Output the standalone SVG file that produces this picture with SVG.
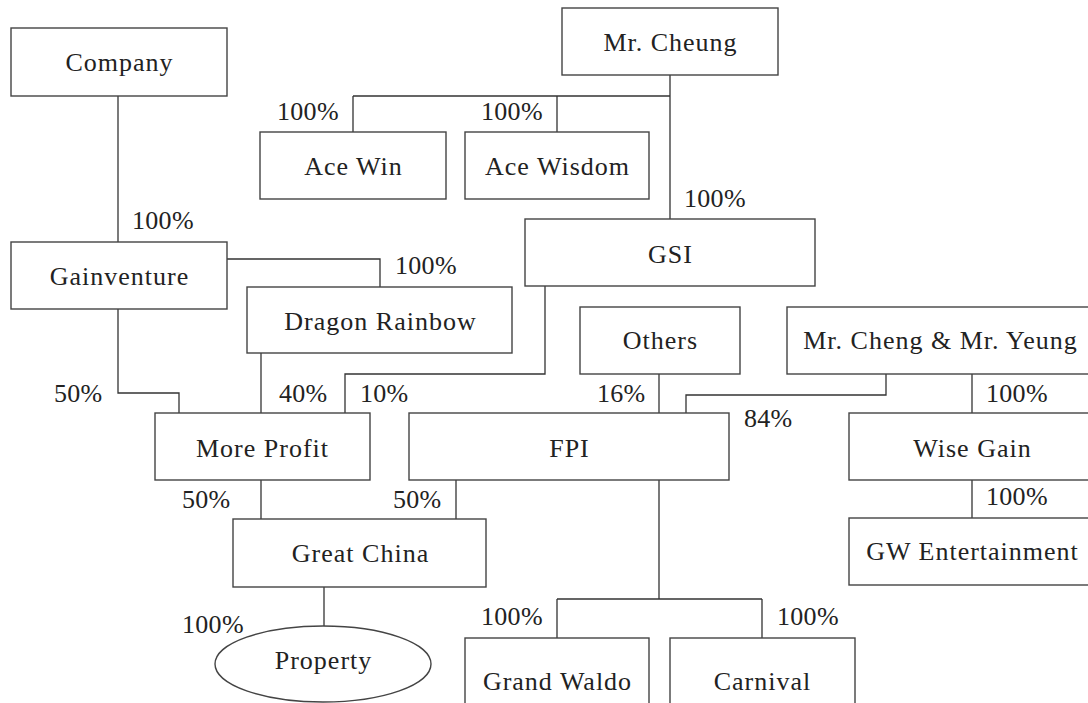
<svg xmlns="http://www.w3.org/2000/svg" width="1088" height="703" viewBox="0 0 1088 703">
<style>
.b{fill:#fff;stroke:#444;stroke-width:1.4}
.t{font-family:"Liberation Serif","Times New Roman",serif;font-size:26px;fill:#222;text-anchor:middle;letter-spacing:1px}
.p{font-family:"Liberation Serif","Times New Roman",serif;font-size:26px;fill:#222;letter-spacing:0.3px}
.c{fill:none;stroke:#333;stroke-width:1.3}
</style>
<rect width="1088" height="703" fill="#fff"/>
<g id="connectors">
<path class="c" d="M118,96V242"/>
<path class="c" d="M670,75V219M353,96H670M353,96V132M557,96V132"/>
<path class="c" d="M227,259H380V287"/>
<path class="c" d="M118,309V393H179V413"/>
<path class="c" d="M261,353V413"/>
<path class="c" d="M545,286V374H345V413"/>
<path class="c" d="M659,374V413"/>
<path class="c" d="M886,374V395H686V413"/>
<path class="c" d="M972,374V413"/>
<path class="c" d="M261,480V519"/>
<path class="c" d="M456,480V519"/>
<path class="c" d="M324,587V626"/>
<path class="c" d="M659,480V599M557,599H762M557,599V638M762,599V638"/>
<path class="c" d="M972,480V518"/>
<text class="p" x="132" y="229">100%</text>
<text class="p" x="277" y="120">100%</text>
<text class="p" x="481" y="120">100%</text>
<text class="p" x="684" y="207">100%</text>
<text class="p" x="395" y="274">100%</text>
<text class="p" x="54" y="402">50%</text>
<text class="p" x="279" y="402">40%</text>
<text class="p" x="360" y="402">10%</text>
<text class="p" x="597" y="402">16%</text>
<text class="p" x="744" y="427">84%</text>
<text class="p" x="986" y="402">100%</text>
<text class="p" x="182" y="508">50%</text>
<text class="p" x="393" y="508">50%</text>
<text class="p" x="182" y="633">100%</text>
<text class="p" x="481" y="625">100%</text>
<text class="p" x="777" y="625">100%</text>
<text class="p" x="986" y="505">100%</text>
</g>
<g id="company"><rect class="b" x="11" y="28" width="216" height="68"/><text class="t" x="119.5" y="71">Company</text></g>
<g id="mr-cheung"><rect class="b" x="562" y="8" width="216" height="67"/><text class="t" x="670.5" y="51">Mr. Cheung</text></g>
<g id="ace-win"><rect class="b" x="260" y="132" width="186" height="67"/><text class="t" x="353.5" y="175">Ace Win</text></g>
<g id="ace-wisdom"><rect class="b" x="465" y="132" width="184" height="67"/><text class="t" x="557.5" y="175">Ace Wisdom</text></g>
<g id="gsi"><rect class="b" x="525" y="219" width="290" height="67"/><text class="t" x="670.5" y="263">GSI</text></g>
<g id="gainventure"><rect class="b" x="11" y="242" width="216" height="67"/><text class="t" x="119.5" y="285">Gainventure</text></g>
<g id="dragon-rainbow"><rect class="b" x="247" y="287" width="265" height="66"/><text class="t" x="380.5" y="330">Dragon Rainbow</text></g>
<g id="others"><rect class="b" x="580" y="307" width="160" height="67"/><text class="t" x="660.5" y="349">Others</text></g>
<g id="cheng-yeung"><rect class="b" x="787" y="307" width="320" height="67"/><text class="t" x="940.5" y="349">Mr. Cheng &amp; Mr. Yeung</text></g>
<g id="more-profit"><rect class="b" x="155" y="413" width="215" height="67"/><text class="t" x="262.5" y="457">More Profit</text></g>
<g id="fpi"><rect class="b" x="409" y="413" width="320" height="67"/><text class="t" x="569.5" y="457">FPI</text></g>
<g id="wise-gain"><rect class="b" x="849" y="413" width="260" height="67"/><text class="t" x="972.5" y="457">Wise Gain</text></g>
<g id="great-china"><rect class="b" x="233" y="519" width="253" height="68"/><text class="t" x="360.5" y="562">Great China</text></g>
<g id="gw-entertainment"><rect class="b" x="849" y="518" width="260" height="67"/><text class="t" x="972.5" y="560">GW Entertainment</text></g>
<g id="property"><ellipse class="b" cx="323" cy="664" rx="108" ry="38"/><text class="t" x="323.5" y="669">Property</text></g>
<g id="grand-waldo"><rect class="b" x="465" y="638" width="184" height="80"/><text class="t" x="557.5" y="690">Grand Waldo</text></g>
<g id="carnival"><rect class="b" x="670" y="638" width="185" height="80"/><text class="t" x="762.5" y="690">Carnival</text></g>
</svg>
